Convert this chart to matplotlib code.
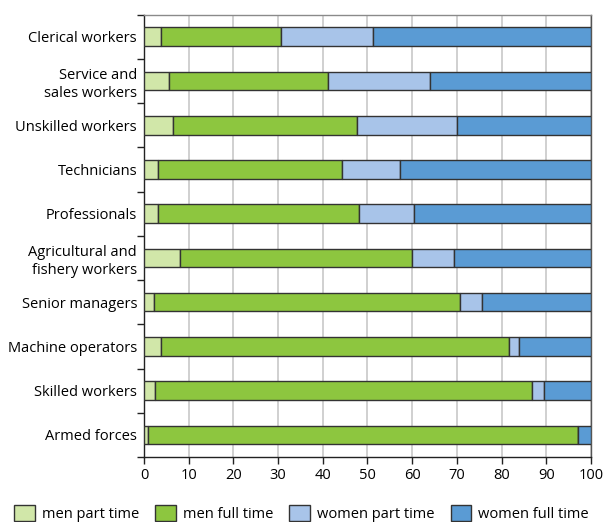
import matplotlib
import matplotlib.pyplot as plt
import numpy as np
from matplotlib.ticker import FixedLocator
matplotlib.use('agg')

plt.rcParams['font.family'] = ['Open Sans', 'DejaVu Sans']

categories = ["Clerical workers", "Service and\nsales workers", "Unskilled workers",
              "Technicians", "Professionals", "Agricultural and\nfishery workers",
              "Senior managers", "Machine operators", "Skilled workers", "Armed forces"]
men_part = [3.7, 5.6, 6.5, 3.2, 3.1, 8.1, 2.2, 3.9, 2.5, 1.0]
men_full = [27.0, 35.5, 41.1, 41.2, 44.9, 51.8, 68.5, 77.7, 84.3, 96.1]
women_part = [20.6, 23.0, 22.5, 12.8, 12.3, 9.4, 4.9, 2.4, 2.6, 0.0]
women_full = [48.7, 35.9, 29.9, 42.8, 39.7, 30.7, 24.4, 16.0, 10.6, 2.9]

series = [("men part time", men_part, "#d1e7a9"),
          ("men full time", men_full, "#8dc63f"),
          ("women part time", women_part, "#a8c4e9"),
          ("women full time", women_full, "#5a9bd4")]

fig = plt.figure(figsize=(6.03, 5.22), dpi=100)
ax = fig.add_axes([0.2388, 0.1245, 0.7412, 0.8475])

y = np.arange(len(categories))
left = np.zeros(len(categories))
for name, vals, col in series:
    vals = np.array(vals)
    ax.barh(y, vals, left=left, height=0.42, color=col, edgecolor="#333333",
            linewidth=1.0, label=name, zorder=3)
    left += vals

ax.set_xlim(0, 100)
ax.set_ylim(9.5, -0.5)
ax.set_xticks(np.arange(0, 101, 10))
ax.set_yticks(y)
ax.set_yticklabels(categories, fontsize=10.5, linespacing=1.25)
ax.yaxis.set_minor_locator(FixedLocator(np.arange(-0.5, 10, 1)))
ax.tick_params(axis='y', which='major', length=0, pad=5)
ax.tick_params(axis='y', which='minor', length=5, width=1, color="#222222")
ax.tick_params(axis='x', length=5, width=1, color="#222222", labelsize=10.5, pad=3)
ax.grid(axis='x', color="#c8c8c8", linewidth=1.2, zorder=0)

ax.spines['left'].set_color("#222222")
ax.spines['bottom'].set_color("#222222")
ax.spines['top'].set_color("#8a8a8a")
ax.spines['right'].set_color("#555555")
for s in ax.spines.values():
    s.set_linewidth(1.0)

fig.legend(loc='lower left', bbox_to_anchor=(0.002, -0.025), ncol=4, frameon=False,
           fontsize=10.5, handlelength=1.4, handleheight=1.4, handletextpad=0.5,
           columnspacing=1.1)

plt.savefig("out.png", dpi=100)
